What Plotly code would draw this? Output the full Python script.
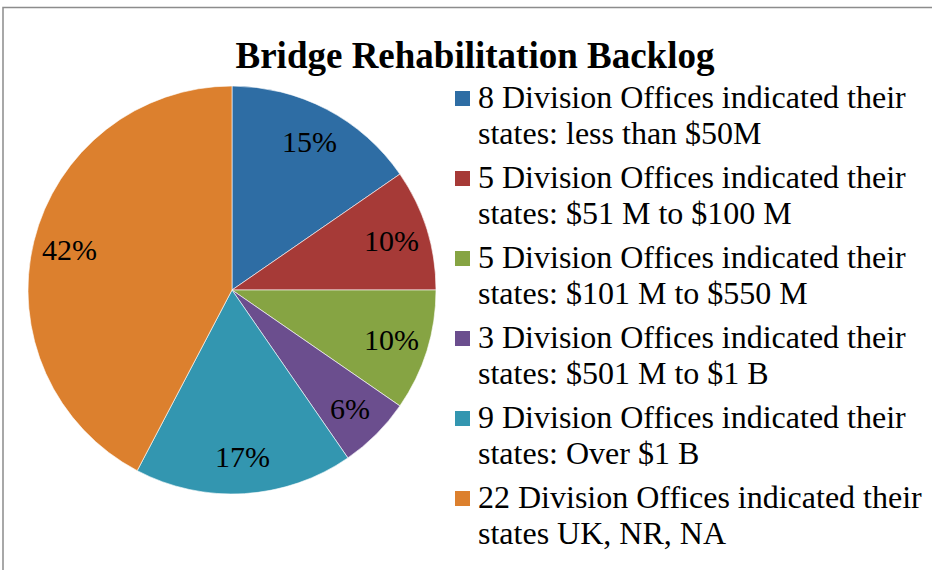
import math
import plotly.graph_objects as go

# ---- data ----
counts = [8, 5, 5, 3, 9, 22]
legend_line1 = [
    "8 Division Offices indicated their",
    "5 Division Offices indicated their",
    "5 Division Offices indicated their",
    "3 Division Offices indicated their",
    "9 Division Offices indicated their",
    "22 Division Offices indicated their",
]
legend_line2 = [
    "states: less than $50M",
    "states: $51 M to $100 M",
    "states: $101 M to $550 M",
    "states: $501 M to $1 B",
    "states: Over $1 B",
    "states UK, NR, NA",
]
colors = ["#2E6DA4", "#A63A37", "#86A443", "#6B4E8E", "#3396B0", "#DC802E"]
title_text = "Bridge Rehabilitation Backlog"

W, H = 932, 570
FONT = "Liberation Serif, Times New Roman, serif"

def px_x(x):
    return x / W

def px_y(y):
    return 1 - y / H

labels = [a + " " + b for a, b in zip(legend_line1, legend_line2)]

# pie geometry (pixels)
CX, CY, R = 232, 290, 204

fig = go.Figure()
fig.add_trace(go.Pie(
    labels=labels,
    values=counts,
    sort=False,
    direction="clockwise",
    rotation=0,
    marker=dict(colors=colors, line=dict(color="rgba(255,255,255,0.6)", width=1)),
    textinfo="none",
    domain=dict(x=[px_x(CX - R), px_x(CX + R)], y=[px_y(CY + R), px_y(CY - R)]),
    showlegend=False,
    hoverinfo="label+percent",
))

annotations = []
shapes = []

# percentage labels placed at the slice mid-angle (derived from the values)
total = sum(counts)
cum = 0
LABEL_R = 0.82 * R
for v in counts:
    mid = (cum + v / 2) / total * 2 * math.pi
    cum += v
    lx = CX + LABEL_R * math.sin(mid)
    ly = CY - LABEL_R * math.cos(mid)
    annotations.append(dict(
        x=px_x(lx), y=px_y(ly), xref="paper", yref="paper",
        xanchor="center", yanchor="middle", showarrow=False,
        text=f"{round(100 * v / total)}%",
        font=dict(family=FONT, size=30, color="black"),
    ))

# chart border
shapes.append(dict(type="rect", xref="paper", yref="paper",
                   x0=px_x(3), x1=px_x(W + 10), y0=px_y(H + 10), y1=px_y(7.5),
                   line=dict(color="#8C8C8C", width=1.5), fillcolor="rgba(0,0,0,0)", layer="below"))

fs = 32
for i, (l1, l2, c) in enumerate(zip(legend_line1, legend_line2, colors)):
    base1 = 108 + 80 * i
    base2 = base1 + 36
    for base, txt in ((base1, l1), (base2, l2)):
        annotations.append(dict(
            x=px_x(476), y=px_y(base - 0.3375 * fs), xref="paper", yref="paper",
            xanchor="left", yanchor="middle", showarrow=False, text=txt,
            font=dict(family=FONT, size=fs, color="black"),
        ))
    shapes.append(dict(type="rect", xref="paper", yref="paper",
                       x0=px_x(455), x1=px_x(470), y0=px_y(base1 - 2), y1=px_y(base1 - 17),
                       fillcolor=c, line=dict(width=0)))

fig.update_layout(
    width=W, height=H,
    margin=dict(l=0, r=0, t=0, b=0),
    paper_bgcolor="white",
    plot_bgcolor="white",
    title=dict(text="<b>" + title_text + "</b>", x=px_x(475), xanchor="center",
               y=px_y(68 - 0.3375 * 37), yanchor="middle",
               font=dict(family=FONT, size=37, color="black")),
    annotations=annotations,
    shapes=shapes,
)

fig.write_html(
    "out.html",
    config={"displayModeBar": False},
    post_script="document.body.style.margin='0';document.body.style.overflow='hidden';",
)
